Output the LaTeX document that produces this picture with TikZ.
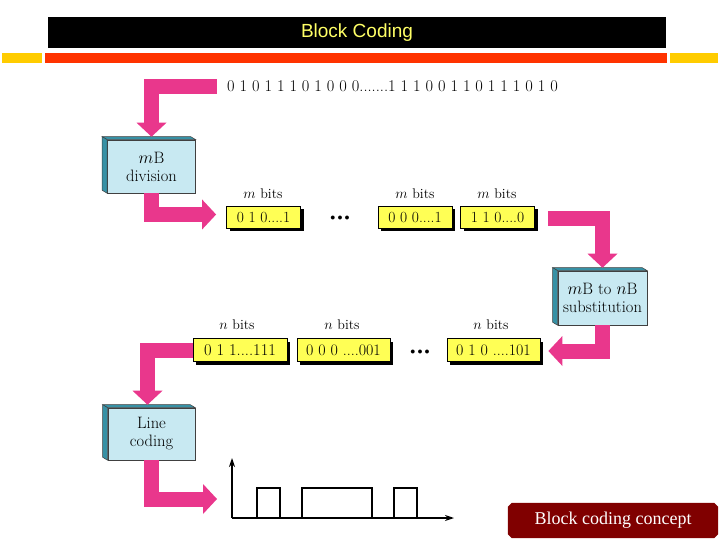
\documentclass[tikz,border=0pt]{standalone}
\usepackage{fontspec}
\newfontfamily\titlefont{Liberation Sans}
\newfontfamily\capfont{Liberation Serif}
\usetikzlibrary{arrows.meta,shadows,calc}
\definecolor{pinkA}{RGB}{233,55,140}
\definecolor{lightblueA}{RGB}{200,233,242}
\definecolor{sideA}{RGB}{55,145,165}
\definecolor{yellowA}{RGB}{255,255,85}
\definecolor{titleYellow}{RGB}{255,255,102}
\definecolor{orangeA}{RGB}{255,51,0}
\definecolor{goldA}{RGB}{255,204,0}
\definecolor{capred}{RGB}{128,0,0}
\begin{document}
\begin{tikzpicture}[x=1pt,y=-1pt,
  fat/.style={draw=pinkA, line width=15pt, line join=miter,
    -{Triangle[width=30pt,length=14pt,line width=0pt]}},
  box3d/.style={draw=black!75, line width=0.6pt, fill=lightblueA,
    minimum width=88pt, minimum height=53pt, align=center, inner sep=0pt,
    font=\fontsize{16.5}{18}\selectfont},
  ybox/.style={draw=black, line width=0.8pt, fill=yellowA, minimum width=74pt,
    minimum height=22pt, inner sep=0pt, font=\fontsize{15.5}{16}\selectfont,
    drop shadow={shadow xshift=3pt, shadow yshift=-3pt, opacity=1, fill=black}},
  lbl/.style={font=\fontsize{14}{16}\selectfont, inner sep=0pt},
  dots/.style={font=\fontsize{10}{10}\selectfont, inner sep=0pt},
  sideface/.style={fill=sideA, draw=black!75, line width=0.5pt},
  axis/.style={line width=1.2pt, -{Stealth[length=9pt,width=6pt]}},
  wave/.style={line width=2.6pt, line join=miter},
]
\useasboundingbox (0,0) rectangle (720,540);
% header
\node[fill=black, minimum width=618pt, minimum height=31pt, inner sep=0pt,
  text=titleYellow, font=\titlefont\fontsize{19}{20}\selectfont] (title) at (357,32.5) {Block Coding};
\fill[orangeA] (45,53) rectangle (667,63);
\fill[goldA] (2,53) rectangle (42,63);
\fill[goldA] (670,53) rectangle (718,63);
% bit stream
\node[font=\fontsize{16.4}{17}\selectfont, inner sep=0pt] (bits) at (392.5,86)
  {0 1 0 1 1 1 0 1 0 0 0.......1 1 1 0 0 1 1 0 1 1 1 0 1 0};
% boxes
\node[box3d] (mbdiv) at (151.5,166.5) {$m$B\\division};
\node[box3d, minimum width=89pt, minimum height=54pt] (subst) at (602.5,298) {$m$B to $n$B\\substitution};
\node[box3d, minimum width=87pt, minimum height=52pt] (lc) at (151.5,434) {Line\\coding};
\foreach \n in {mbdiv,subst,lc}{
  \path[sideface] (\n.north west) -- ++(-5,-3) -- ([shift={(-5,-3)}]\n.north east) -- (\n.north east) -- cycle;
  \path[sideface] (\n.north west) -- ++(-5,-3) -- ([shift={(-5,-3)}]\n.south west) -- (\n.south west) -- cycle;
}
% row 1
\node[ybox] (b1) at (263.5,217.5) {0 1 0....1};
\node[ybox] (b2) at (415,217.5) {0 0 0....1};
\node[ybox] (b3) at (497.5,217.5) {1 1 0....0};
\node[lbl] (m1) at (263,194) {$m$ bits};
\node[lbl] (m2) at (415,194) {$m$ bits};
\node[lbl] (m3) at (497,194) {$m$ bits};
\node[dots] (d1) at (340,218) {$\bullet\bullet\bullet$};
% row 2
\node[ybox, minimum width=94pt, minimum height=23pt, font=\fontsize{16.5}{17}\selectfont] (a1) at (240,350) {0 1 1....111};
\node[ybox, minimum width=93pt, minimum height=23pt, font=\fontsize{16}{17}\selectfont] (a2) at (343.5,350) {0 0 0 ....001};
\node[ybox, minimum width=93pt, minimum height=23pt, font=\fontsize{16}{17}\selectfont] (a3) at (493.5,350) {0 1 0 ....101};
\node[lbl] (n1) at (237,325) {$n$ bits};
\node[lbl] (n2) at (342,325) {$n$ bits};
\node[lbl] (n3) at (491,325) {$n$ bits};
\node[dots] (d2) at (420,352) {$\bullet\bullet\bullet$};
% waveform
\coordinate (origin) at (232,518);
\coordinate (ytop) at (232,458);
\coordinate (xend) at (454,518);
\draw[axis] (origin) -- (ytop);
\draw[axis] (origin) -- (xend);
\draw[wave] (origin) -- (257,518) -- (257,488) -- (280,488) -- (280,518) -- (302,518)
  -- (302,488) -- (372,488) -- (372,518) -- (394,518) -- (394,488) -- (417,488) -- (417,518);
% fat arrows
\draw[fat] ([xshift=-10pt,yshift=-1pt]bits.west) -| ([yshift=3pt]mbdiv.north);
\draw[fat] (mbdiv.south) |- ([xshift=-10pt,yshift=3pt]b1.west);
\draw[fat] ([xshift=13pt,yshift=-1.5pt]b3.east) -| ([yshift=3pt]subst.north);
\draw[fat] (subst.south) |- ([xshift=8pt,yshift=-1pt]a3.east);
\draw[fat] (a1.west) -| ([xshift=-4pt,yshift=3pt]lc.north);
\draw[fat] (lc.south) |- ([xshift=-15pt,yshift=19pt]origin);
% caption
\node[minimum width=210pt, minimum height=35pt, inner sep=0pt] (cap) at (613,520.5) {};
\fill[capred] ([xshift=4pt]cap.north west) -- ([xshift=-4pt]cap.north east)
  -- ([yshift=-4pt]cap.north east) -- ([yshift=4pt]cap.south east)
  -- ([xshift=-4pt]cap.south east) -- ([xshift=4pt]cap.south west)
  -- ([yshift=4pt]cap.south west) -- ([yshift=-4pt]cap.north west) -- cycle;
\node[text=white, font=\capfont\fontsize{18}{20}\selectfont, inner sep=0pt] (captext) at (cap) {Block coding concept};
\end{tikzpicture}
\end{document}
